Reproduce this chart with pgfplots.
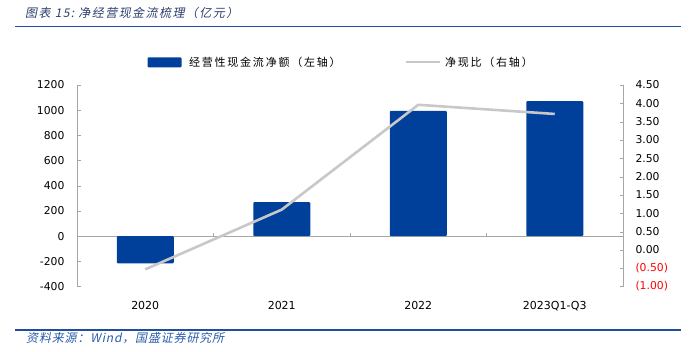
\documentclass[border=0pt]{standalone}
\usepackage{pgfplots}
\pgfplotsset{compat=1.18}
\usepackage{fontspec}
\setmainfont{DejaVu Sans}
\newfontfamily\cjk[LetterSpace=16]{Noto Sans CJK SC}
\newfontfamily\cjkit[FakeSlant=0.2,LetterSpace=12]{Noto Sans CJK SC}
\newfontfamily\cjkfoot[FakeSlant=0.2,LetterSpace=7]{Noto Sans CJK SC}
\definecolor{barblue}{HTML}{00409A}
\definecolor{linegray}{HTML}{C8C8C8}
\definecolor{titlecol}{HTML}{2B3F6B}
\definecolor{rulecol}{HTML}{1F4E9E}
\definecolor{footcol}{HTML}{2A5CAA}
\definecolor{axisgray}{HTML}{A6A6A6}
\begin{document}
\begin{tikzpicture}
\path[use as bounding box] (0pt,0pt) rectangle (696pt,352pt);
% title
\node[anchor=west, inner sep=0, text=titlecol, font=\cjkit\fontsize{12}{14}\selectfont] at (25pt,339pt) {图表 15:\ 净经营现金流梳理（亿元）};
\draw[rulecol, line width=1.2pt] (15pt,325.5pt) -- (681pt,325.5pt);
% footer
\draw[rulecol, line width=1.2pt] (15pt,22pt) -- (681pt,22pt);
\node[anchor=west, inner sep=0, text=footcol, font=\cjkfoot\fontsize{12}{14}\selectfont] at (26pt,14pt) {资料来源：Wind，国盛证券研究所};
% legend
\fill[barblue, rounded corners=1pt] (147.5pt,284.5pt) rectangle (181.5pt,294.5pt);
\node[anchor=west, inner sep=0, font=\cjk\fontsize{11}{13}\selectfont] at (189pt,289.5pt) {经营性现金流净额（左轴）};
\draw[linegray, line width=2.6pt] (406pt,290pt) -- (440pt,290pt);
\node[anchor=west, inner sep=0, font=\cjk\fontsize{11}{13}\selectfont] at (445pt,289.5pt) {净现比（右轴）};

\begin{axis}[
  at={(77pt,65.4pt)}, anchor=south west, scale only axis,
  width=546pt, height=201.6pt,
  xmin=-0.5, xmax=3.5, ymin=-400, ymax=1200,
  axis y line*=left, axis x line*=bottom,
  x axis line style={draw=none},
  y axis line style={axisgray},
  xtick={0,1,2,3},
  xticklabels={2020,2021,2022,2023Q1-Q3},
  xtick style={draw=none},
  xticklabel style={font=\fontsize{11}{13}\selectfont, yshift=-11pt},
  ytick={-400,-200,...,1200},
  yticklabels={-400,-200,0,200,400,600,800,1000,1200},
  ytick style={axisgray},
  tick align=inside,
  major tick length=3.5pt,
  yticklabel style={font=\fontsize{10.8}{13}\selectfont, xshift=-9pt},
  clip=false,
]
\draw[axisgray, line width=0.8pt] (axis cs:-0.5,0) -- (axis cs:3.5,0);
\draw[axisgray] (axis cs:0.5,0) -- ++(0pt,3.5pt);
\draw[axisgray] (axis cs:1.5,0) -- ++(0pt,3.5pt);
\draw[axisgray] (axis cs:2.5,0) -- ++(0pt,3.5pt);
\addplot[ybar, bar width=57pt, fill=barblue, draw=none, rounded corners=1pt] coordinates {(0,-215) (1,271) (2,995) (3,1072)};
\end{axis}

\begin{axis}[
  at={(77pt,65.4pt)}, anchor=south west, scale only axis,
  width=546pt, height=201.6pt,
  xmin=-0.5, xmax=3.5, ymin=-1, ymax=4.5,
  axis y line*=right, axis x line*=bottom,
  x axis line style={draw=none},
  xtick=\empty,
  y axis line style={axisgray},
  ytick={-1,-0.5,0,0.5,1,1.5,2,2.5,3,3.5,4,4.5},
  yticklabels={{\textcolor{red}{(1.00)}},{\textcolor{red}{(0.50)}},0.00,0.50,1.00,1.50,2.00,2.50,3.00,3.50,4.00,4.50},
  ytick style={axisgray},
  tick align=inside,
  major tick length=3.5pt,
  yticklabel style={font=\fontsize{10.8}{13}\selectfont, xshift=9pt},
  clip=false,
]
\addplot[color=linegray, line width=2.6pt] coordinates {(0,-0.53) (1,1.10) (2,3.96) (3,3.71)};
\end{axis}
\end{tikzpicture}
\end{document}
